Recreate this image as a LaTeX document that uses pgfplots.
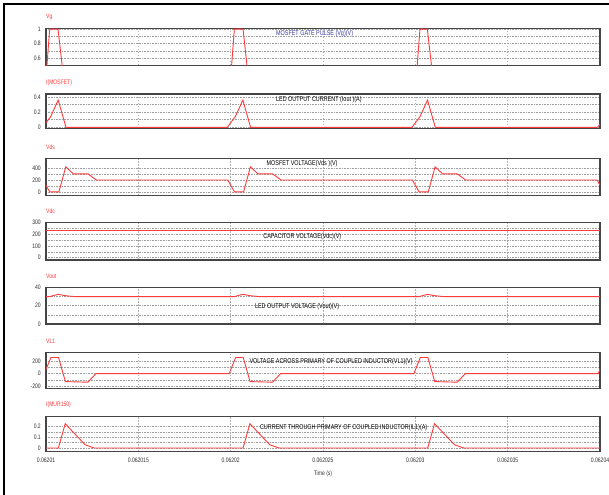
\documentclass[border=0pt]{standalone}
\usepackage{fontspec}
\setmainfont{Liberation Sans}[FakeStretch=0.78]
\usepackage{pgfplots}
\pgfplotsset{compat=1.18}
\definecolor{wave}{HTML}{FF3B3B}
\definecolor{framec}{HTML}{454545}
\definecolor{tickc}{HTML}{333333}
\definecolor{titleblue}{HTML}{3A3A9A}
\newcommand{\tickfont}{\fontsize{6.5}{7}\selectfont}
\newcommand{\titlefont}{\fontsize{7}{8}\selectfont}
\pgfplotsset{
  panel/.style={
    scale only axis, width=554bp,
    xmin=0, xmax=30,
    xtick={0,5,...,30}, xticklabels={},
    axis line style={draw=framec, line width=1.2bp},
    xmajorgrids, ymajorgrids, yminorgrids,
    major x grid style={dash pattern=on 1.5bp off 1.5bp, gray!60, line width=0.45bp},
    major y grid style={dash pattern=on 0.6bp off 1bp, gray!75, line width=0.5bp},
    minor y grid style={dash pattern=on 0.6bp off 1bp, gray!75, line width=0.5bp},
    minor y tick num=1,
    major tick length=0pt, minor tick length=0pt,
    tick style={draw=none},
    /pgf/number format/assume math mode=true,
    yticklabel style={font=\tickfont, text=tickc, inner sep=0pt, anchor=east, xshift=-5bp},
    xticklabel style={font=\tickfont, text=tickc, inner sep=0pt, anchor=north, yshift=-6bp},
    title style={at={(axis description cs:0,1)}, anchor=west, yshift=5.5bp,
                 inner sep=0pt, font=\tickfont, text=wave},
    clip=true,
  },
  wv/.style={wave, line width=0.9bp, no marks},
}
\begin{document}
\begin{tikzpicture}
\useasboundingbox (0,0) rectangle (609bp,495bp);
\fill[white] (0,0) rectangle (609bp,495bp);
\draw[black, line width=1.3bp] (4bp,0) -- (4bp,491bp) -- (609bp,491bp);

% x in microseconds after t = 0.06201 s
% Panel 1: Vg
\begin{axis}[panel, at={(46bp,466.5bp)}, anchor=north west, height=37bp,
  ymin=0.5, ymax=1.008, ytick={0.6,0.8,1}, title={Vg}]
\addplot[wv] coordinates {(-0.1,0)(0.2,1)(0.65,1)(1.1,0)
 (9.9,0)(10.2,1)(10.67,1)(11.1,0)
 (19.95,0)(20.25,1)(20.65,1)(21.1,0)(30,0)};
\node[anchor=west, inner sep=0pt, font=\titlefont, text=titleblue] at (rel axis cs:0.415,0.87) {MOSFET GATE PULSE (Vg)(V)};
\end{axis}

% Panel 2: I(MOSFET)
\begin{axis}[panel, at={(46bp,401bp)}, anchor=north west, height=34.3bp,
  ymin=-0.013, ymax=0.44, ytick={0,0.2,0.4}, title={I(MOSFET)}]
\addplot[wv] coordinates {(-0.18,0)(0,0.06)(0.25,0.14)(0.66,0.36)(1.08,0)
 (9.82,0)(10,0.06)(10.25,0.14)(10.66,0.36)(11.08,0)
 (19.82,0)(20,0.06)(20.25,0.14)(20.66,0.36)(21.08,0)
 (29.85,0)(30,0.04)};
\node[anchor=west, inner sep=0pt, font=\titlefont, text=black] at (rel axis cs:0.415,0.826) {LED OUTPUT CURRENT (Iout )(A)};
\end{axis}

% Panel 3: Vds
\begin{axis}[panel, at={(46bp,336.7bp)}, anchor=north west, height=37.4bp,
  ymin=-65, ymax=560, ytick={0,200,400}, title={Vds}]
\addplot[wv] coordinates {(-0.16,198)(0.2,0)(0.7,0)(1.07,417)(1.48,300)(2.27,300)(2.72,198)
 (9.84,198)(10.2,0)(10.7,0)(11.07,417)(11.48,300)(12.27,300)(12.72,198)
 (19.84,198)(20.2,0)(20.7,0)(21.07,417)(21.48,300)(22.27,300)(22.72,198)
 (29.84,198)(30.2,0)};
\node[anchor=west, inner sep=0pt, font=\titlefont, text=black] at (rel axis cs:0.398,0.854) {MOSFET VOLTAGE(Vds )(V)};
\end{axis}

% Panel 4: Vdc
\begin{axis}[panel, at={(46bp,272.3bp)}, anchor=north west, height=37.3bp,
  ymin=-20, ymax=300, ytick={0,100,200,300}, title={Vdc}]
\addplot[wv] coordinates {(0,235)(30,235)};
\node[anchor=west, inner sep=0pt, font=\titlefont, text=black] at (rel axis cs:0.392,0.627) {CAPACITOR VOLTAGE(Vdc)(V)};
\end{axis}

% Panel 5: Vout
\begin{axis}[panel, at={(46bp,207.7bp)}, anchor=north west, height=36.7bp,
  ymin=0, ymax=40, ytick={0,20,40}, title={Vout}]
\addplot[wv] coordinates {(0,29.8)(0.2,29.8)(0.45,31.3)(0.67,32.3)(1.0,31)(1.35,30.2)(1.6,29.8)
 (10.2,29.8)(10.45,31.3)(10.67,32.3)(11.0,31)(11.35,30.2)(11.6,29.8)
 (20.2,29.8)(20.45,31.3)(20.67,32.3)(21.0,31)(21.35,30.2)(21.6,29.8)(30,29.8)};
\node[anchor=west, inner sep=0pt, font=\titlefont, text=black] at (rel axis cs:0.377,0.481) {LED OUTPUT VOLTAGE (Vout)(V)};
\end{axis}

% Panel 6: VL1
\begin{axis}[panel, at={(46bp,142.7bp)}, anchor=north west, height=36bp,
  ymin=-240, ymax=350, ytick={-200,0,200}, title={VL1}]
\addplot[wv] coordinates {(-0.1,0)(0.27,265)(0.68,265)(1.05,-130)(2.27,-140)(2.7,0)
 (9.92,0)(10.27,265)(10.68,265)(11.05,-130)(12.27,-140)(12.7,0)
 (19.92,0)(20.27,265)(20.68,265)(21.05,-130)(22.27,-140)(22.7,0)
 (29.9,0)(30.27,265)};
\node[anchor=west, inner sep=0pt, font=\titlefont, text=black] at (rel axis cs:0.367,0.744) {VOLTAGE ACROSS PRIMARY OF COUPLED INDUCTOR(VL1)(V)};
\end{axis}

% Panel 7: I(MUR150)
\begin{axis}[panel, at={(46bp,78.3bp)}, anchor=north west, height=35bp,
  ymin=-0.034, ymax=0.29, ytick={0,0.1,0.2}, title={I(MUR150)},
  xticklabels={0.06201,0.062015,0.06202,0.062025,0.06203,0.062035,0.06204},
  xlabel={Time (s)},
  xlabel style={at={(axis description cs:0.5,0)}, anchor=center, yshift=-22bp,
                inner sep=0pt, font=\tickfont, text=tickc}]
\addplot[wv] coordinates {(0,0)(0.67,0)(1.04,0.225)(2.12,0.03)(2.62,0)
 (10.67,0)(11.04,0.225)(12.12,0.03)(12.62,0)
 (20.67,0)(21.04,0.225)(22.12,0.03)(22.62,0)(30,0)};
\node[anchor=west, inner sep=0pt, font=\titlefont, text=black] at (rel axis cs:0.386,0.677) {CURRENT THROUGH PRIMARY OF COUPLED INDUCTOR(IL1)(A)};
\end{axis}
\end{tikzpicture}
\end{document}
